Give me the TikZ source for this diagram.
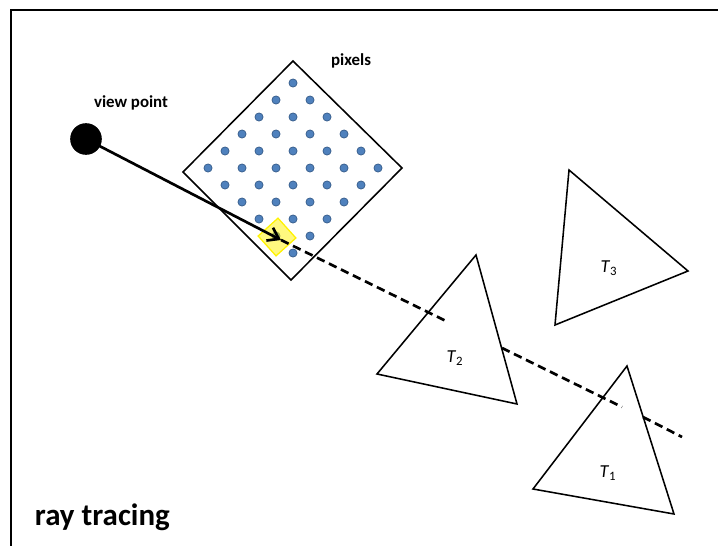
\documentclass[tikz,border=0pt]{standalone}
\usepackage{fontspec}
\setmainfont{Carlito}
\usetikzlibrary{arrows.meta}
\definecolor{pixfill}{HTML}{4F81BD}
\definecolor{pixline}{HTML}{385D8A}

\begin{document}
\begin{tikzpicture}[x=0.025cm,y=-0.025cm,>={Straight Barb[length=2.6mm,width=3.6mm]},line cap=round,
  tri/.style={draw,line width=1.1pt,line join=miter},
  ray/.style={line width=1.9pt},
  hidden/.style={line width=1.9pt,dash pattern=on 6pt off 3.5pt,line cap=butt},
  pix/.style={fill=pixfill,draw=pixline,line width=0.5pt},
  lbl/.style={font=\bfseries\fontsize{12}{14}\selectfont},
  tname/.style={font=\fontsize{13}{15}\selectfont}]
\useasboundingbox (0,0) rectangle (718,546);
\draw[line width=1.1pt] (11,546) -- (11,10) -- (718,10);
\draw[tri] (293,61) -- (402,168) -- (291,280) -- (183,172) -- cycle;
\foreach \m in {0,...,5}
  \foreach \n in {0,...,5}
    \draw[pix] (293+17*\n-17*\m,83+17*\m+17*\n) circle[radius=2.9pt];
\node[draw=yellow,fill=yellow,fill opacity=0.5,line width=0.9pt,minimum size=19pt,inner sep=0pt,rotate=42] (sel) at (277,237) {};
\node[lbl] (vplabel) at (131,103) {view point};
\node[lbl] (pixlabel) at (351,61) {pixels};
\node[circle,fill,inner sep=0pt,minimum size=22.5pt] (vp) at (86,139) {};
\coordinate (hit) at (281,240);
\coordinate (d1e) at (448,322);
\coordinate (d2s) at (502,348);
\coordinate (d2e) at (622,407);
\coordinate (d3s) at (643,417);
\coordinate (d3e) at (682,437);
\draw[ray,->] (vp.center) -- (hit);
\draw[hidden] (hit) -- (d1e);
\draw[hidden] (d2s) -- (d2e);
\draw[hidden] (d3s) -- (d3e);
\draw[tri] (476,255) -- (517,404) -- (377,374) -- cycle;
\draw[tri] (569,170) -- (688,271) -- (555,325) -- cycle;
\draw[tri] (627,366) -- (674,514) -- (533,489) -- cycle;
\node[tname] (t2) at (455,358) {\textit{T}\textsubscript{2}};
\node[tname] (t3) at (609,268) {\textit{T}\textsubscript{3}};
\node[tname] (t1) at (608,473) {\textit{T}\textsubscript{1}};
\node[anchor=west,font=\bfseries\fontsize{22}{26}\selectfont] (title) at (30,517) {ray tracing};
\end{tikzpicture}
\end{document}
